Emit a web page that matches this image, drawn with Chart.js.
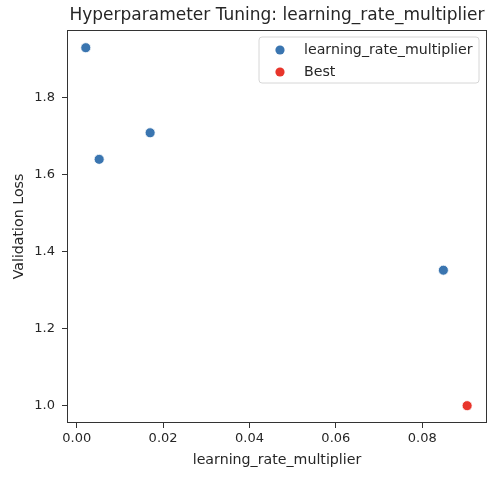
<!DOCTYPE html>
<html>
<head>
<meta charset="utf-8">
<script src="https://cdn.jsdelivr.net/npm/chart.js@4/dist/chart.umd.min.js"></script>
<style>
  html, body { margin: 0; padding: 0; background: #fff; }
  #wrap { width: 504px; height: 477px; }
</style>
</head>
<body>
<div id="wrap"><canvas id="mycanvas" width="504" height="477"></canvas></div>
<script>
// values
var trialRates = [0.0021, 0.0052, 0.017, 0.0849];
var trialLoss = [1.93, 1.64, 1.709, 1.352];
var bestRate = [0.0904];
var bestLoss = [1.0];
var xTickValues = [0, 0.02, 0.04, 0.06, 0.08];
var yTickValues = [1.0, 1.2, 1.4, 1.6, 1.8];

var chartTitle = 'Hyperparameter Tuning: learning_rate_multiplier';
var xLabel = 'learning_rate_multiplier';
var yLabel = 'Validation Loss';

var textColor = '#262626';
var frameColor = '#333333';
var fontName = "'DejaVu Sans', sans-serif";

function toPoints(xs, ys) {
    var pts = [];
    for (var i in xs) {
        pts.push({ x: xs[i], y: ys[i] });
    }
    return pts;
}

// title, frame and boxed legend like the original figure
var framePlugin = {
    id: 'frame',
    afterDraw: function(chart) {
        var ctx = chart.ctx;
        var a = chart.chartArea;
        ctx.save();
        ctx.strokeStyle = frameColor;
        ctx.lineWidth = 1;
        ctx.strokeRect(Math.round(a.left) + 0.5, Math.round(a.top) + 0.5,
            Math.round(a.right - a.left) - 1, Math.round(a.bottom - a.top) - 1);

        ctx.fillStyle = textColor;
        ctx.font = '17px ' + fontName;
        ctx.textAlign = 'center';
        ctx.textBaseline = 'middle';
        ctx.fillText(chartTitle, (a.left + a.right) / 2, 16);

        // legend box
        var bx = 259, by = 37, bw = 220, bh = 46, r = 3;
        ctx.beginPath();
        ctx.moveTo(bx + r, by);
        ctx.arcTo(bx + bw, by, bx + bw, by + bh, r);
        ctx.arcTo(bx + bw, by + bh, bx, by + bh, r);
        ctx.arcTo(bx, by + bh, bx, by, r);
        ctx.arcTo(bx, by, bx + bw, by, r);
        ctx.closePath();
        ctx.fillStyle = 'rgba(255,255,255,0.8)';
        ctx.fill();
        ctx.strokeStyle = '#d6d6d6';
        ctx.stroke();

        ctx.font = '14.2px ' + fontName;
        ctx.textAlign = 'left';
        chart.data.datasets.forEach(function(ds, i) {
            var ry = 50 + i * 22;
            ctx.beginPath();
            ctx.arc(280, ry, 4.6, 0, Math.PI * 2);
            ctx.fillStyle = ds.backgroundColor;
            ctx.fill();
            ctx.fillStyle = textColor;
            ctx.fillText(ds.label, 304, ry);
        });
        ctx.restore();
    }
};

var chartdata = {
    datasets: [
        {
            label: 'learning_rate_multiplier',
            data: toPoints(trialRates, trialLoss),
            backgroundColor: '#3a75b0',
            borderColor: '#ffffff',
            borderWidth: 0.8,
            pointRadius: 5,
            pointHoverRadius: 5
        },
        {
            label: 'Best',
            data: toPoints(bestRate, bestLoss),
            backgroundColor: '#e8352b',
            borderColor: '#ffffff',
            borderWidth: 0.8,
            pointRadius: 5,
            pointHoverRadius: 5
        }
    ]
};

const config = {
    type: 'scatter',
    data: chartdata,
    plugins: [framePlugin],
    options: {
        responsive: false,
        animation: false,
        devicePixelRatio: 1,
        layout: { padding: { top: 30, right: 17, left: 0, bottom: 0 } },
        plugins: {
            legend: { display: false },
            title: { display: false },
            tooltip: { enabled: false }
        },
        scales: {
            x: {
                type: 'linear',
                min: -0.00225,
                max: 0.095,
                afterBuildTicks: function(scale) {
                    scale.ticks = xTickValues.map(function(v) { return { value: v }; });
                },
                afterFit: function(scale) { scale.height = 54; },
                border: { display: false },
                grid: { drawOnChartArea: false, drawTicks: true, tickLength: 5, color: frameColor },
                ticks: {
                    color: textColor,
                    font: { family: fontName, size: 13 },
                    padding: 3,
                    maxRotation: 0,
                    callback: function(v) { return v.toFixed(2); }
                },
                title: {
                    display: true,
                    text: xLabel,
                    color: textColor,
                    font: { family: fontName, size: 14.2 },
                    padding: { top: 0, bottom: 8 }
                }
            },
            y: {
                type: 'linear',
                min: 0.955,
                max: 1.976,
                afterBuildTicks: function(scale) {
                    scale.ticks = yTickValues.map(function(v) { return { value: v }; });
                },
                afterFit: function(scale) { scale.width = 67; },
                border: { display: false },
                grid: { drawOnChartArea: false, drawTicks: true, tickLength: 5, color: frameColor },
                ticks: {
                    color: textColor,
                    font: { family: fontName, size: 13 },
                    padding: 7,
                    callback: function(v) { return v.toFixed(1); }
                },
                title: {
                    display: true,
                    text: yLabel,
                    color: textColor,
                    font: { family: fontName, size: 14.2 },
                    padding: { top: 11, bottom: 0 }
                }
            }
        }
    }
};

const myChart = new Chart(document.getElementById('mycanvas'), config);
</script>
</body>
</html>
